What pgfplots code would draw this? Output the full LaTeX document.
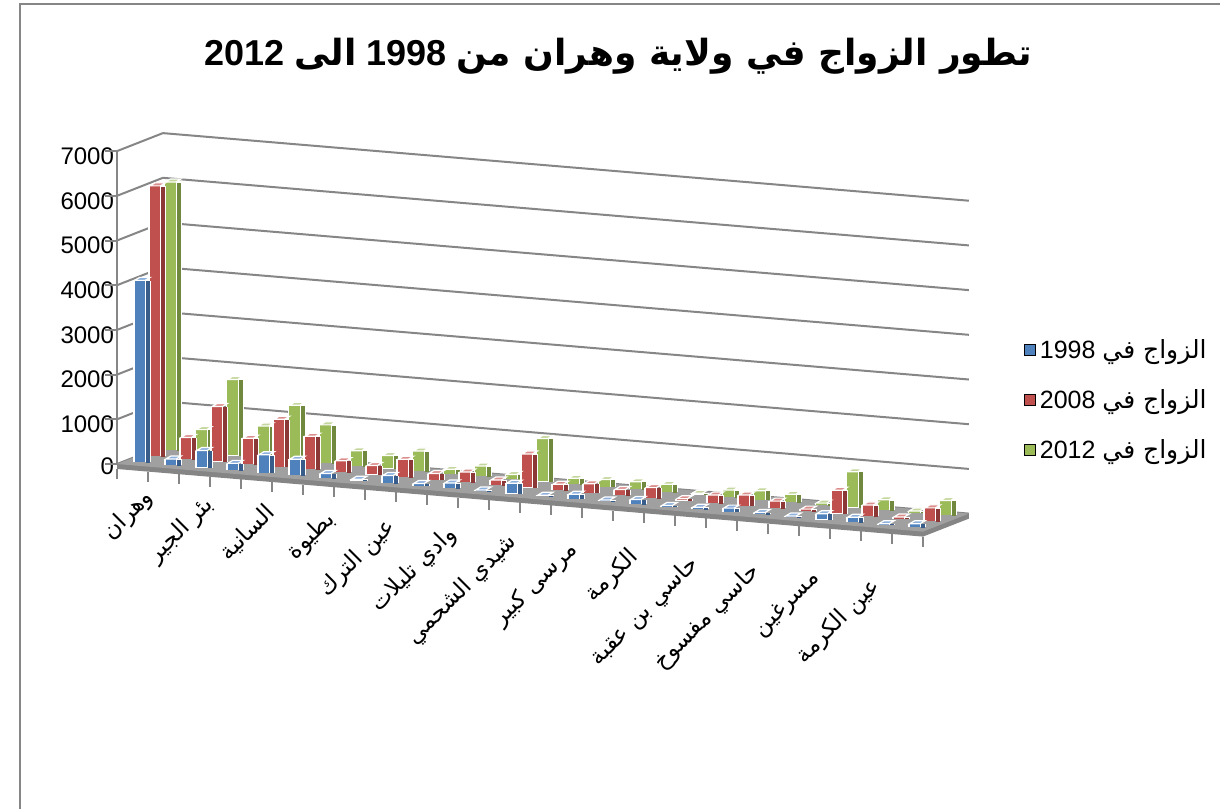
\documentclass[border=0pt]{standalone}
\usepackage{pgfplots}
\pgfplotsset{compat=1.18}
\usepackage{pgfplotstable}
\usepackage{fontspec}
\setmainfont{Liberation Sans}
\newfontfamily\arabicfont[Script=Arabic]{DejaVu Sans}
\TeXXeTstate=1
\definecolor{c1}{HTML}{4F81BD}\definecolor{c1d}{HTML}{385D8A}\definecolor{c1l}{HTML}{8EB0DC}
\definecolor{c2}{HTML}{C0504D}\definecolor{c2d}{HTML}{8C3836}\definecolor{c2l}{HTML}{DB8F8D}
\definecolor{c3}{HTML}{9BBB59}\definecolor{c3d}{HTML}{71893F}\definecolor{c3l}{HTML}{C3D69B}
\definecolor{gridc}{HTML}{868686}\definecolor{floorc}{HTML}{A0A0A0}\definecolor{floord}{HTML}{858585}
\pgfdeclareplotmark{boxtop}{%
  \pgfpathmoveto{\pgfpoint{-2.6pt}{0pt}}%
  \pgfpathlineto{\pgfpoint{2.6pt}{0pt}}%
  \pgfpathlineto{\pgfpoint{5.1pt}{1.5pt}}%
  \pgfpathlineto{\pgfpoint{-0.1pt}{1.5pt}}%
  \pgfpathclose\pgfusepathqfillstroke}
\pgfplotstableread{
c a b d
0.5 4070 6050 6000
1.5 130 480 520
2.5 380 1230 1700
3.5 150 580 720
4.5 400 1060 1240
5.5 360 740 860
6.5 100 250 340
7.5 30 200 290
8.5 170 400 450
9.5 50 140 100
10.5 120 230 230
11.5 20 110 100
12.5 230 750 960
13.5 20 130 130
14.5 100 200 160
15.5 30 130 170
16.5 100 230 170
17.5 20 40 30
18.5 40 180 160
19.5 80 240 200
20.5 40 160 180
21.5 20 40 40
22.5 130 520 800
23.5 110 250 230
24.5 20 40 40
25.5 80 300 330
}\data
\begin{document}
\begin{tikzpicture}
\useasboundingbox (0pt,0pt) rectangle (610pt,-404.5pt);
\draw[gridc, line width=0.8pt] (10pt,-404.5pt) -- (10pt,-2pt) -- (610pt,-2pt);
\node[font=\fontsize{18}{22}\selectfont\bfseries] at (309pt,-28pt)
  {\beginR{\arabicfont\bfseries تطور الزواج في ولاية وهران من} \beginL 1998\endL{} {\arabicfont\bfseries الى} \beginL 2012\endL\endR};
\begin{axis}[
  anchor=origin, at={(58.5pt,-232pt)},
  x={(15.5pt,-1.3pt)}, y={(7.65pt,3pt)}, z={(0pt,0.02236pt)},
  xmin=0, xmax=26, ymin=0, ymax=3, zmin=0, zmax=7000,
  clip=false,
  axis line style={draw=none},
  ytick=\empty,
  xtick={0.5,2.5,...,24.5},
  xticklabels={{\beginR وهران\endR},{\beginR بئر الجير\endR},{\beginR السانية\endR},{\beginR بطيوة\endR},{\beginR عين الترك\endR},{\beginR وادي تليلات\endR},{\beginR شيدي الشحمي\endR},{\beginR مرسى كبير\endR},{\beginR الكرمة\endR},{\beginR حاسي بن عقبة\endR},{\beginR حاسي مفسوخ\endR},{\beginR مسرغين\endR},{\beginR عين الكرمة\endR}},
  xticklabel style={font=\arabicfont\fontsize{11.5}{14}\selectfont, xshift={11pt-0.68pt*\ticknum}, yshift={-12pt-1.1pt*\ticknum}, rotate=45, anchor=east},
  ztick={0,1000,...,7000},
  zticklabel style={font=\fontsize{12}{14}\selectfont, xshift=2pt},
  /pgf/number format/assume math mode=true,
  /pgf/number format/1000 sep={},
  zmajorgrids,
  major grid style={gridc, line width=1pt},
  major tick length=0pt,
  legend style={at={(axis description cs:1.057,0.33)}, anchor=west, draw=none, fill=none,
    font=\fontsize{12.5}{15}\selectfont, row sep=10pt},
  legend cell align=left,
  legend image code/.code={\draw[#1] (0pt,-2.8pt) rectangle (5.6pt,2.8pt);},
]
\addlegendimage{fill=c1, draw=none}
\addlegendentry{\beginR{\arabicfont الزواج في} \beginL 1998\endL\endR}
\addlegendimage{fill=c2, draw=none}
\addlegendentry{\beginR{\arabicfont الزواج في} \beginL 2008\endL\endR}
\addlegendimage{fill=c3, draw=none}
\addlegendentry{\beginR{\arabicfont الزواج في} \beginL 2012\endL\endR}

\fill[floord] ([yshift=-2.5pt]axis cs:0,0,0) -- ([yshift=-2.5pt]axis cs:26,0,0) -- ([yshift=-2.5pt]axis cs:26,3,0) -- (axis cs:26,3,0) -- (axis cs:0,3,0) -- (axis cs:0,0,0) -- cycle;
\fill[floorc] (axis cs:0,0,0) -- (axis cs:26,0,0) -- (axis cs:26,3,0) -- (axis cs:0,3,0) -- cycle;
\draw[gridc, line width=1pt] (axis cs:0,0,0) -- (axis cs:0,0,7000);
\pgfplotsinvokeforeach{0,1000,2000,3000,4000,5000,6000,7000}{\draw[gridc, line width=1pt] (axis cs:0,0,#1) -- ++(-6pt,0pt);}
\pgfplotsinvokeforeach{0,...,26}{\draw[gridc, line width=0.8pt] ([yshift=-2.5pt]axis cs:#1,0,0) -- ++(0pt,-5pt);}

% 2012 (back row)
\addplot3[quiver={u=0,v=0,w=\thisrow{d}}, draw=white, line width=9pt] table[x expr=\thisrow{c}+0.065, y expr=2.5, z expr=0] {\data};
\addplot3[quiver={u=0,v=0,w=\thisrow{d}}, draw=c3d, line width=2pt] table[x expr=\thisrow{c}+0.258, y expr=2.5, z expr=0] {\data};
\addplot3[quiver={u=0,v=0,w=\thisrow{d}}, draw=c3, line width=5.25pt] table[x expr=\thisrow{c}-0.008, y expr=2.5, z expr=0] {\data};
\addplot3[only marks, mark=boxtop, mark options={fill=c3l, draw=white, line width=0.6pt}] table[x expr=\thisrow{c}-0.008, y expr=2.5, z=d] {\data};
% 2008 (middle row)
\addplot3[quiver={u=0,v=0,w=\thisrow{b}}, draw=white, line width=9pt] table[x expr=\thisrow{c}+0.065, y expr=1.5, z expr=0] {\data};
\addplot3[quiver={u=0,v=0,w=\thisrow{b}}, draw=c2d, line width=2pt] table[x expr=\thisrow{c}+0.258, y expr=1.5, z expr=0] {\data};
\addplot3[quiver={u=0,v=0,w=\thisrow{b}}, draw=c2, line width=5.25pt] table[x expr=\thisrow{c}-0.008, y expr=1.5, z expr=0] {\data};
\addplot3[only marks, mark=boxtop, mark options={fill=c2l, draw=white, line width=0.6pt}] table[x expr=\thisrow{c}-0.008, y expr=1.5, z=b] {\data};
% 1998 (front row)
\addplot3[quiver={u=0,v=0,w=\thisrow{a}}, draw=white, line width=9pt] table[x expr=\thisrow{c}+0.065, y expr=0.5, z expr=0] {\data};
\addplot3[quiver={u=0,v=0,w=\thisrow{a}}, draw=c1d, line width=2pt] table[x expr=\thisrow{c}+0.258, y expr=0.5, z expr=0] {\data};
\addplot3[quiver={u=0,v=0,w=\thisrow{a}}, draw=c1, line width=5.25pt] table[x expr=\thisrow{c}-0.008, y expr=0.5, z expr=0] {\data};
\addplot3[only marks, mark=boxtop, mark options={fill=c1l, draw=white, line width=0.6pt}] table[x expr=\thisrow{c}-0.008, y expr=0.5, z=a] {\data};
\end{axis}
\end{tikzpicture}
\end{document}
